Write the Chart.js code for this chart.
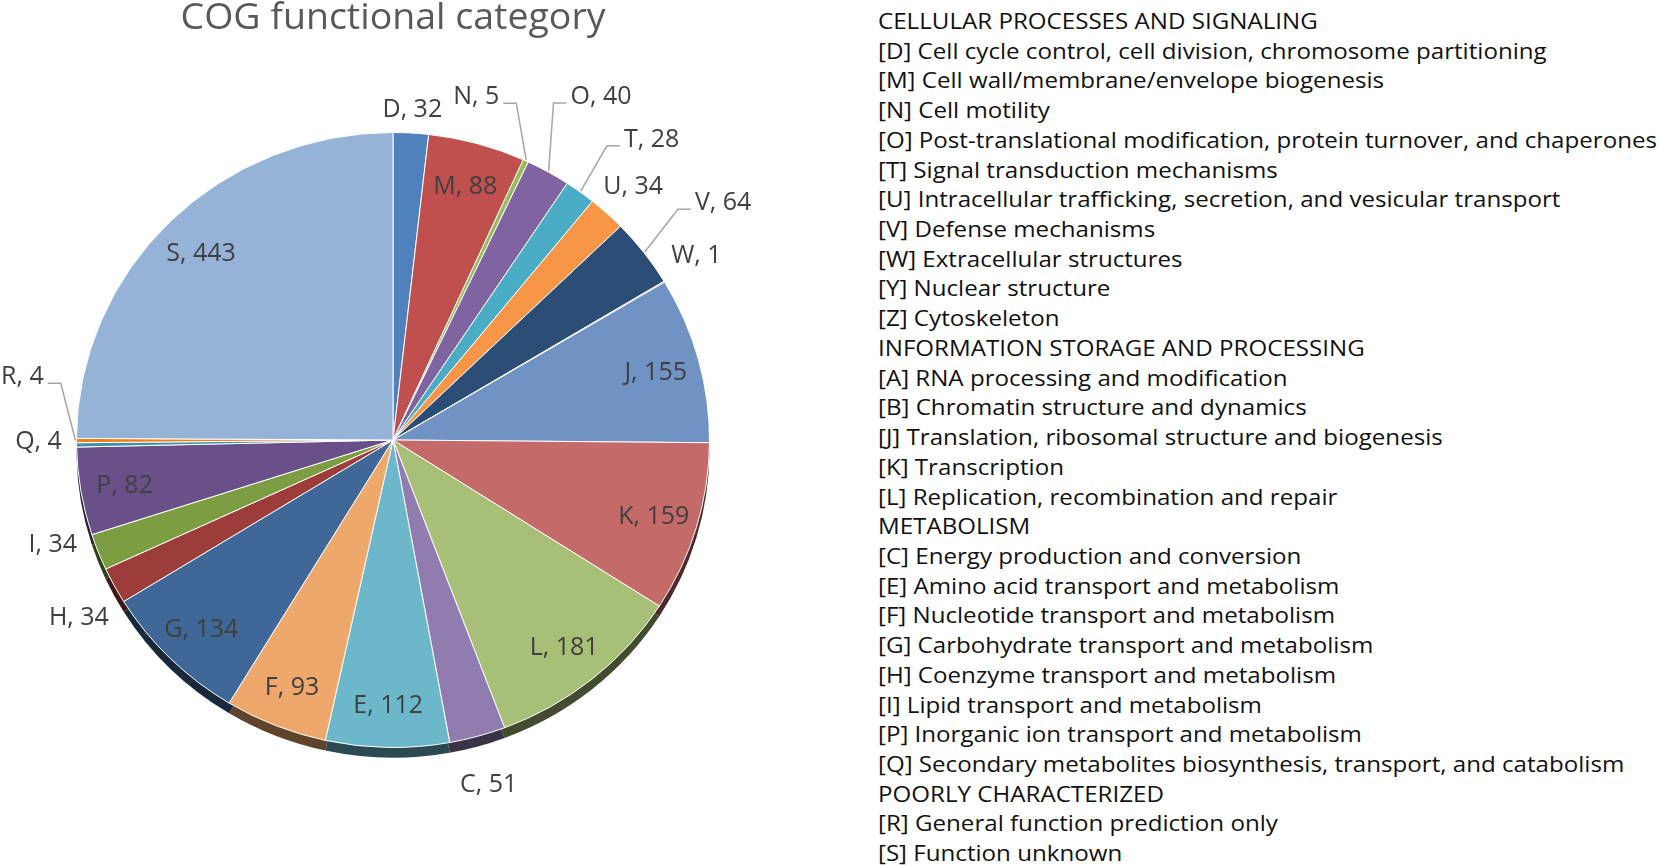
<!DOCTYPE html>
<html>
<head>
<meta charset="utf-8">
<title>COG functional category</title>
<script src="https://cdn.jsdelivr.net/npm/chart.js@4.4.1/dist/chart.umd.min.js"></script>
<style>
  html, body { margin: 0; padding: 0; background: #fff; overflow: hidden; }
  body { width: 1659px; height: 865px; position: relative; font-family: "Open Sans", sans-serif; }
  #pie-wrap { position: absolute; left: 0; top: 0; width: 786px; height: 865px; }
  #title { position: absolute; left: 0; top: -2px; width: 786px; text-align: center;
           font-size: 36px; line-height: 36px; color: #595959; white-space: nowrap; }
  #title span { display: inline-block; transform-origin: center top; }
  #legend { position: absolute; left: 878px; top: 7px; font-size: 21px; line-height: 29.72px;
            color: #111; white-space: nowrap; transform-origin: left top; }
</style>
</head>
<body>
<div id="pie-wrap"><canvas id="pieChart"></canvas></div>
<div id="title"><span>COG functional category</span></div>
<div id="legend"></div>
<script>
document.addEventListener("DOMContentLoaded", function() {

  // slices, clockwise from 12 o'clock
  var categories = ["D", "M", "N", "O", "T", "U", "V", "W", "J", "K", "L", "C", "E", "F", "G", "H", "I", "P", "Q", "R", "S"];
  var counts = [32, 88, 5, 40, 28, 34, 64, 1, 155, 159, 181, 51, 112, 93, 134, 34, 34, 82, 4, 4, 443];
  var sliceColors = ["#4F81BD", "#C0504D", "#9BBB59", "#8064A2", "#4BACC6", "#F79646", "#2C4D75", "#772C2A",
                     "#7093C3", "#C46B69", "#A8BF77", "#917CAF", "#6DB7CA", "#EEA86B", "#3F6797", "#9C3D3A",
                     "#7D9D43", "#695089", "#3A93AB", "#F07F1A", "#95B2D7"];

  var legendLines = [
    "CELLULAR PROCESSES AND SIGNALING",
    "[D] Cell cycle control, cell division, chromosome partitioning",
    "[M] Cell wall/membrane/envelope biogenesis",
    "[N] Cell motility",
    "[O] Post-translational modification, protein turnover, and chaperones",
    "[T] Signal transduction mechanisms",
    "[U] Intracellular trafficking, secretion, and vesicular transport",
    "[V] Defense mechanisms",
    "[W] Extracellular structures",
    "[Y] Nuclear structure",
    "[Z] Cytoskeleton",
    "INFORMATION STORAGE AND PROCESSING",
    "[A] RNA processing and modification",
    "[B] Chromatin structure and dynamics",
    "[J] Translation, ribosomal structure and biogenesis",
    "[K] Transcription",
    "[L] Replication, recombination and repair",
    "METABOLISM",
    "[C] Energy production and conversion",
    "[E] Amino acid transport and metabolism",
    "[F] Nucleotide transport and metabolism",
    "[G] Carbohydrate transport and metabolism",
    "[H] Coenzyme transport and metabolism",
    "[I] Lipid transport and metabolism",
    "[P] Inorganic ion transport and metabolism",
    "[Q] Secondary metabolites biosynthesis, transport, and catabolism",
    "POORLY CHARACTERIZED",
    "[R] General function prediction only",
    "[S] Function unknown"
  ];

  // labels placed outside the pie: gap beyond the rim (px), angle shift (deg), leader line
  var outsideLabels = {
    D: { gap: 26, shift: 0 },
    N: { gap: 48, shift: -11.6, leader: true },
    O: { gap: 95, shift: 1.0, leader: true },
    T: { gap: 88, shift: 3.5, leader: true },
    U: { gap: 39, shift: 0 },
    V: { gap: 95, shift: 0.9, leader: true },
    W: { gap: 42, shift: -1.2 },
    C: { gap: 49, shift: 0.3 },
    H: { gap: 46, shift: -1.7 },
    I: { gap: 40, shift: 4.0 },
    Q: { gap: 38, shift: 0.9 },
    R: { gap: 60, shift: 10.3, leader: true }
  };

  var SQUASH = 0.9716;   // slight 3D tilt
  var DEPTH = 10.5;      // thickness of the pie edge
  var LABEL_FONT = 25;

  // measuring helper for the HTML texts
  var mctx = document.createElement("canvas").getContext("2d");
  function fitWidth(el, text, font, target) {
    mctx.font = font;
    var w = mctx.measureText(text).width;
    el.style.transform = "scaleX(" + (target / w) + ")";
  }

  var legendBox = document.getElementById("legend");
  for (var i = 0; i < legendLines.length; i++) {
    var line = document.createElement("div");
    line.textContent = legendLines[i];
    legendBox.appendChild(line);
  }
  fitWidth(legendBox, legendLines[4], '21px "Open Sans"', 779);
  fitWidth(document.querySelector("#title span"), "COG functional category", '36px "Open Sans"', 425);

  function darker(hex, f) {
    var n = parseInt(hex.slice(1), 16);
    var r = Math.round(((n >> 16) & 255) * f);
    var g = Math.round(((n >> 8) & 255) * f);
    var b = Math.round((n & 255) * f);
    return "rgb(" + r + "," + g + "," + b + ")";
  }

  var pieDecor = {
    id: "pieDecor",
    beforeDatasetsDraw: function(chart) {
      var ctx = chart.ctx;
      var arcs = chart.getDatasetMeta(0).data;
      var cx = arcs[0].x, cy = arcs[0].y;
      ctx.save();
      ctx.translate(cx, cy);
      ctx.scale(1, SQUASH);
      ctx.translate(-cx, -cy);
      // side of the pie, seen below the top face
      for (var i = 0; i < arcs.length; i++) {
        var a = arcs[i];
        ctx.beginPath();
        ctx.moveTo(a.x, a.y + DEPTH);
        ctx.arc(a.x, a.y + DEPTH, a.outerRadius, a.startAngle, a.endAngle);
        ctx.closePath();
        ctx.fillStyle = darker(sliceColors[i], 0.4);
        ctx.fill();
      }
      // transform stays on for the slices, restored after they are drawn
    },
    afterDatasetsDraw: function(chart) {
      var ctx = chart.ctx;
      ctx.restore();
      var arcs = chart.getDatasetMeta(0).data;
      ctx.save();
      ctx.font = LABEL_FONT + 'px "Open Sans"';
      ctx.fillStyle = "#404040";
      ctx.textAlign = "center";
      ctx.textBaseline = "alphabetic";
      for (var i = 0; i < arcs.length; i++) {
        var a = arcs[i];
        var mid = (a.startAngle + a.endAngle) / 2;
        var text = categories[i] + ", " + counts[i];
        var spec = outsideLabels[categories[i]];
        var ang = mid, dist = a.outerRadius * 0.86;
        if (spec) {
          ang = mid + spec.shift * Math.PI / 180;
          dist = a.outerRadius + spec.gap;
        }
        var lx = a.x + dist * Math.cos(ang);
        var ly = a.y + dist * Math.sin(ang) * SQUASH;
        ctx.fillText(text, lx, ly + LABEL_FONT * 0.714 / 2);

        if (spec && spec.leader) {
          var w = ctx.measureText(text).width;
          var ex = a.x + (a.outerRadius + 1) * Math.cos(mid);
          var ey = a.y + (a.outerRadius + 1) * Math.sin(mid) * SQUASH;
          var sx, bx;
          if (lx < ex) { sx = lx + w / 2 + 4; bx = sx + 13; }
          else { sx = lx - w / 2 - 4; bx = sx - 13; }
          var by = ly + 8;
          ctx.beginPath();
          ctx.moveTo(sx, by);
          ctx.lineTo(bx, by);
          ctx.lineTo(ex, ey);
          ctx.strokeStyle = "#A6A6A6";
          ctx.lineWidth = 1.5;
          ctx.stroke();
        }
      }
      ctx.restore();
    }
  };

  var ctx = document.getElementById("pieChart").getContext("2d");
  new Chart(ctx, {
    type: "pie",
    data: {
      labels: categories,
      datasets: [{
        data: counts,
        backgroundColor: sliceColors,
        borderColor: "#FFFFFF",
        borderWidth: 1,
        clip: false
      }]
    },
    options: {
      responsive: true,
      maintainAspectRatio: false,
      animation: false,
      events: [],
      layout: { padding: { left: 76, right: 76, top: 123, bottom: 108 } },
      plugins: {
        legend: { display: false },
        tooltip: { enabled: false },
        title: { display: false }
      }
    },
    plugins: [pieDecor]
  });
});
</script>
</body>
</html>
